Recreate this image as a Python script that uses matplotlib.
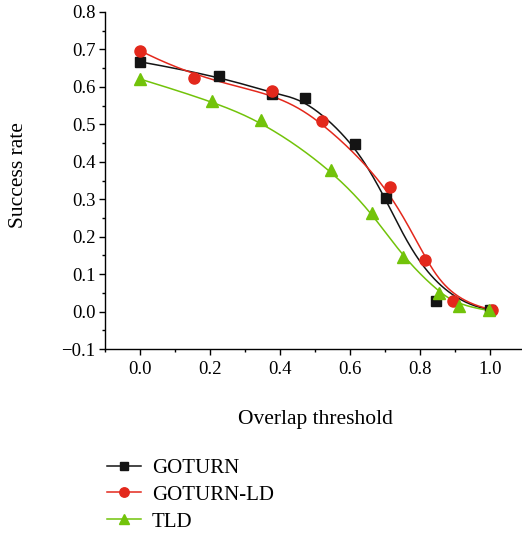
import numpy as np
import matplotlib.pyplot as plt
from matplotlib.ticker import MultipleLocator

plt.rcParams['font.family'] = ['Liberation Serif', 'DejaVu Serif']

# data
goturn_x = [0.0, 0.226, 0.377, 0.471, 0.614, 0.703, 0.846, 1.0]
goturn_y = [0.667, 0.629, 0.581, 0.570, 0.448, 0.302, 0.029, 0.005]

goturn_ld_x = [0.0, 0.154, 0.377, 0.520, 0.714, 0.814, 0.894, 1.006]
goturn_ld_y = [0.697, 0.624, 0.589, 0.509, 0.332, 0.138, 0.027, 0.005]

tld_x = [0.0, 0.206, 0.346, 0.546, 0.663, 0.751, 0.854, 0.911, 0.997]
tld_y = [0.621, 0.562, 0.512, 0.379, 0.263, 0.146, 0.050, 0.016, 0.003]


def bspline(px, py, num=300, k=3):
    # clamped cubic B-spline using the points as control points
    P = np.column_stack([px, py])
    n = len(P)
    knots = np.concatenate([np.zeros(k), np.linspace(0, 1, n - k + 1), np.ones(k)])
    t = np.linspace(0, 1, num)
    t[-1] = 1 - 1e-9
    B = np.zeros((num, len(knots) - 1))
    for i in range(len(knots) - 1):
        B[:, i] = (t >= knots[i]) & (t < knots[i + 1])
    for d in range(1, k + 1):
        Bn = np.zeros((num, len(knots) - 1 - d))
        for i in range(len(knots) - 1 - d):
            a = knots[i + d] - knots[i]
            b = knots[i + d + 1] - knots[i + 1]
            left = (t - knots[i]) / a * B[:, i] if a > 0 else 0
            right = (knots[i + d + 1] - t) / b * B[:, i + 1] if b > 0 else 0
            Bn[:, i] = left + right
        B = Bn
    C = B @ P
    return C[:, 0], C[:, 1]


fig = plt.figure(figsize=(5.22, 5.35), dpi=100)
ax = fig.add_axes([105 / 522, 186 / 535, 420 / 522, 337 / 535])

series = [
    (goturn_x, goturn_y, 'GOTURN', '#141414', 's', 7.5),
    (goturn_ld_x, goturn_ld_y, 'GOTURN-LD', '#e3281c', 'o', 8),
    (tld_x, tld_y, 'TLD', '#72c30a', '^', 8.5),
]

handles = []
for x, y, name, c, m, ms in series:
    sx, sy = bspline(x, y)
    ax.plot(sx, sy, color=c, lw=1.1, zorder=2)
    ax.plot(x, y, ls='none', marker=m, ms=ms, color=c, mec=c, zorder=3)
    h, = ax.plot([], [], color=c, lw=1.1, marker=m, ms=ms * 0.85, mec=c, label=name)
    handles.append(h)

ax.xaxis.set_major_locator(MultipleLocator(0.2))
ax.xaxis.set_minor_locator(MultipleLocator(0.1))
ax.yaxis.set_major_locator(MultipleLocator(0.1))
ax.yaxis.set_minor_locator(MultipleLocator(0.05))
ax.set_xticks([0.0, 0.2, 0.4, 0.6, 0.8, 1.0])
ax.set_xticklabels(['0.0', '0.2', '0.4', '0.6', '0.8', '1.0'])
yt = np.round(np.arange(-0.1, 0.81, 0.1), 1)
ax.set_yticks(yt)
ax.set_yticklabels([f'{v:.1f}'.replace('-', '\u2212') for v in yt])
ax.set_xlim(-0.1, 1.1)
ax.set_ylim(-0.1, 0.8)

for s in ['top', 'right']:
    ax.spines[s].set_visible(False)
for s in ['left', 'bottom']:
    ax.spines[s].set_linewidth(1.0)
ax.tick_params(which='major', direction='out', length=4, width=1.0, labelsize=13.5, pad=3)
ax.tick_params(which='minor', direction='out', length=2.3, width=1.0)
ax.tick_params(axis='x', which='major', pad=5)

ax.set_xlabel('Overlap threshold', fontsize=15.5)
ax.set_ylabel('Success rate', fontsize=15.5)
ax.xaxis.set_label_coords(0.5, -0.208)
ax.xaxis.label.set_verticalalignment('center')
ax.yaxis.set_label_coords(-0.207, 0.516)
ax.yaxis.label.set_verticalalignment('center')

fig.legend(handles=handles, loc='upper left', bbox_to_anchor=(99 / 522, 1 - 450 / 535),
           frameon=False, fontsize=15, handlelength=1.6, handletextpad=0.55,
           labelspacing=0.35, borderaxespad=0)

fig.savefig('out.png', dpi=100)
